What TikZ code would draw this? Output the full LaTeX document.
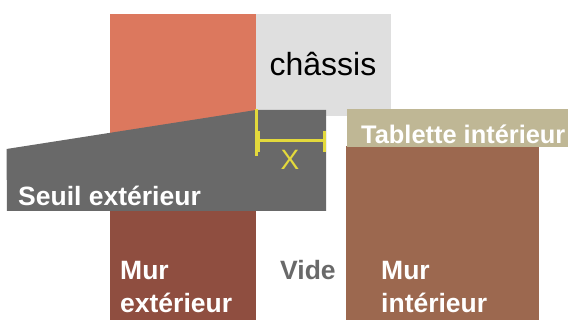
\documentclass[tikz,border=0pt]{standalone}
\usepackage{fontspec}
\setmainfont{Liberation Sans}
\usepackage{tikz}
\usetikzlibrary{positioning}
\definecolor{saumon}{HTML}{DC785E}
\definecolor{chassisgris}{HTML}{DFDFDF}
\definecolor{seuilgris}{HTML}{696969}
\definecolor{murext}{HTML}{8F4E40}
\definecolor{murint}{HTML}{9C684F}
\definecolor{tablette}{HTML}{BFB795}
\definecolor{cote}{HTML}{E3D93C}
\begin{document}
\begin{tikzpicture}[x=1pt,y=-1pt]
\tikzset{label/.style =
{text = white,
font = \bfseries\fontsize{26.5}{33}\selectfont,
align = left,
inner sep = 0pt},
cotetrait/.style =
{draw = cote,
line width = 3pt}}
\useasboundingbox (0,0) rectangle (568,320);
% murs
\fill[saumon] (110,14) rectangle (256,135);
\fill[chassisgris] (256,14) rectangle (391,116);
\fill[murext] (110,211) rectangle (256,320);
\fill[murint] (346,146) rectangle (539,320);
\fill[tablette] (347,109) rectangle (568,147);
\fill[seuilgris] (6.5,149) -- (256,110) -- (326,110) -- (326,211) -- (7,211) -- cycle;
% cote
\coordinate (xg) at (257,141);
\coordinate (xd) at (324.5,141);
\draw[cotetrait] (256,109) -- (256,156);
\draw[cotetrait] (258,131) -- (258,152);
\draw[cotetrait] (xd) ++(0,-10) -- ++(0,21);
\draw[cotetrait] (xg) -- (xd);
% textes
\node[font=\fontsize{32}{32}\selectfont, anchor=base] (chassis) at (323,76) {châssis};
\node[text=cote, font=\fontsize{28}{28}\selectfont, anchor=base] (x) at (290,170) {X};
\node[label, anchor=base west] (seuil) at (18,206) {Seuil extérieur};
\node[label, anchor=base west, font=\bfseries\fontsize{25.4}{33}\selectfont] (tab) at (361,144) {Tablette intérieur};
\node[label, anchor=base west] (ext) at (120,313) {Mur\\extérieur};
\node[label, anchor=base west, text=seuilgris] (vide) at (280,280) {Vide};
\node[label, anchor=base west] (int) at (381,313) {Mur\\intérieur};
\end{tikzpicture}
\end{document}
